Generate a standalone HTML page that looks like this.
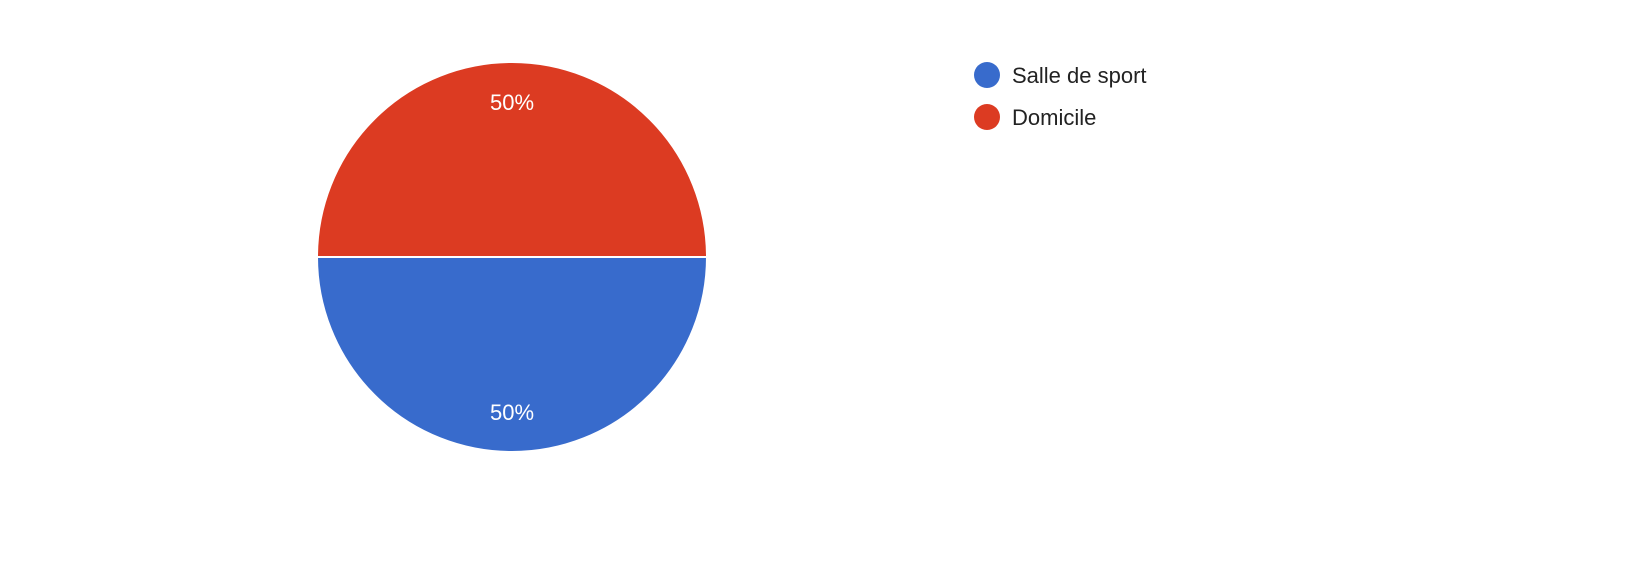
<!DOCTYPE html>
<html><head><meta charset="utf-8"><style>
html,body{margin:0;padding:0;background:#fff;width:1648px;height:570px;overflow:hidden}
svg{display:block;font-family:"Liberation Sans",Arial,sans-serif}
</style></head><body>
<svg id="chart" width="1648" height="570"></svg>
<script>
const categories = ["Salle de sport", "Domicile"];
const values = [50, 50];
const colors = ["#386bcc", "#dc3b22"];

const svg = document.getElementById('chart');
const NS = 'http://www.w3.org/2000/svg';
const cx = 512, cy = 257, r = 195;
const total = values.reduce((a, b) => a + b, 0);
let ang = 0; // start at 3 o'clock, clockwise
function pt(a, rad) { return [cx + rad * Math.cos(a), cy + rad * Math.sin(a)]; }
values.forEach((v, i) => {
  const sweep = v / total * Math.PI * 2;
  const a0 = ang, a1 = ang + sweep;
  const [x0, y0] = pt(a0, r), [x1, y1] = pt(a1, r);
  const large = sweep > Math.PI ? 1 : 0;
  const p = document.createElementNS(NS, 'path');
  p.setAttribute('d', `M${cx},${cy} L${x0},${y0} A${r},${r} 0 ${large} 1 ${x1},${y1} Z`);
  p.setAttribute('fill', colors[i]);
  p.setAttribute('stroke', '#fff');
  p.setAttribute('stroke-width', '2');
  
  
  svg.appendChild(p);
  const mid = (a0 + a1) / 2;
  const [lx, ly] = pt(mid, 155);
  const t = document.createElementNS(NS, 'text');
  t.setAttribute('x', lx);
  t.setAttribute('y', ly + 8);
  t.setAttribute('text-anchor', 'middle');
  t.setAttribute('fill', '#fff');
  t.setAttribute('font-size', '22');
  t.textContent = Math.round(v / total * 100) + '%';
  
  
  svg.appendChild(t);
  ang = a1;
});
categories.forEach((c, i) => {
  const y = 75 + i * 42;
  const g = document.createElementNS(NS, 'g');
  
  
  const ci = document.createElementNS(NS, 'circle');
  ci.setAttribute('cx', 987); ci.setAttribute('cy', y); ci.setAttribute('r', 13);
  ci.setAttribute('fill', colors[i]);
  
  
  const t = document.createElementNS(NS, 'text');
  t.setAttribute('x', 1012); t.setAttribute('y', y + 8);
  t.setAttribute('font-size', '22'); t.setAttribute('fill', '#222');
  t.textContent = c;
  
  
  g.appendChild(ci); g.appendChild(t);
  svg.appendChild(g);
});
</script>
</body></html>
